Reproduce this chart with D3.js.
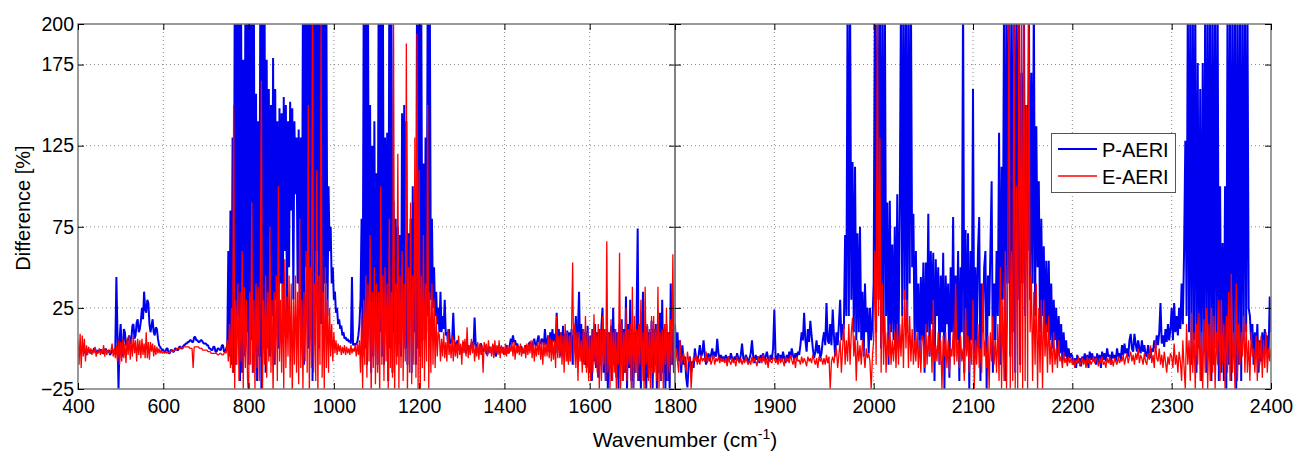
<!DOCTYPE html>
<html><head><meta charset="utf-8">
<script src="https://cdn.jsdelivr.net/npm/d3@7"></script>
<style>body{margin:0;background:#fff}svg{display:block}text{font-family:"Liberation Sans",Arial,sans-serif;fill:#000}</style>
</head><body><svg id="c" width="1296" height="451"></svg>
<script>
// ---- data ----
// left panel: 400..1800 cm-1 every 2.5 ; right panel: 1800..2400 cm-1 every 1.25
const leftRange = [400, 1800];
const rightRange = [1800, 2400];
const seriesNames = ["P-AERI", "E-AERI"];

const pLeft = [
-1,-2,-3,-1,0,-2,-2,-3,-4,-2,-1,-2,-3,-1,-2,0,0,-2,-3,-1,
-2,-1,-1,-3,-3,-1,0,-2,-2,-1,-4,-3,-1,-2,-3,0,44,10,-25,5,
15,0,-5,12,10,2,2,6,8,3,5,14,15,6,8,16,18,10,12,17,
25,18,35,24,22,30,28,15,10,14,18,10,8,13,12,6,2,1,0,-1,
-1,-2,-2,0,0,-3,-3,-1,-1,-2,-2,0,0,-1,-1,1,1,0,0,2,
2,3,3,4,4,5,5,4,4,7,7,5,5,4,4,5,5,4,3,3,
3,2,2,0,0,-1,-1,1,1,-2,-2,0,0,-1,-1,2,2,-2,-2,0,
2,60,-5,85,-10,130,-15,220,-10,220,20,220,-20,210,-15,178,-5,220,10,220,
-10,220,5,220,-15,210,0,157,-20,140,-5,220,-25,220,10,220,-15,178,0,160,
-5,150,20,179,-10,160,30,140,0,148,40,145,10,155,60,150,20,140,50,152,
85,148,30,140,95,130,40,135,20,130,10,220,-10,220,50,220,0,220,30,220,
-20,230,20,220,60,230,0,220,15,230,10,220,40,210,20,100,60,75,40,50,
30,35,22,25,15,18,12,14,8,10,6,7,5,6,4,5,3,44,2,3,
2,3,4,8,15,30,80,-5,220,0,220,-10,220,15,150,-15,125,-5,140,10,
108,-10,220,10,220,-5,220,-10,130,20,133,-20,220,0,220,-15,91,10,80,-5,
75,10,70,-5,145,15,150,0,140,-10,71,20,80,-15,100,10,90,-10,220,0,
220,-5,210,25,114,5,130,20,220,10,220,30,80,25,50,20,35,15,25,10,
35,10,20,12,30,8,10,4,12,3,4,6,22,5,0,3,5,-1,2,0,
-2,1,4,-1,-3,0,2,-2,0,3,4,1,19,3,1,-1,-3,2,3,0,
-2,0,2,-3,-4,0,1,-2,-2,1,2,-3,-5,0,1,-2,-3,1,0,-2,
-4,-1,2,-2,-3,2,6,3,8,4,5,2,3,0,-2,1,1,-2,-3,0,
2,0,-1,3,4,1,0,4,6,2,2,5,8,3,3,6,5,2,12,3,
2,8,-2,10,0,12,4,9,-3,22,3,12,-5,10,2,14,-4,9,2,11,
-8,10,2,12,-10,8,5,20,-5,12,35,-5,15,-8,12,-10,10,-12,14,-10,
-15,8,-20,12,-8,15,-12,10,-18,12,-10,14,25,-15,8,-20,12,-25,10,-12,
14,-20,25,-10,12,-18,10,-25,15,-10,18,-20,12,-15,32,-25,15,-12,30,-20,
12,-25,10,-15,20,74,-20,15,-25,12,35,-20,10,-25,14,-18,10,-12,17,-25,
12,-10,15,-25,10,-15,22,-20,30,-15,12,-25,15,-20,10,-25,40,-10,12,-15,
15];

const eLeft = [
5,-10,9,-12,8,-5,6,-8,2,-4,1,-3,0,-4,-1,-3,1,-5,-2,-3,
0,-4,-1,-3,2,-5,0,-4,-1,-2,-3,-1,3,-5,0,-6,2,-8,5,-10,
4,-8,6,-6,3,-9,6,-4,8,-7,6,-5,8,-3,5,-8,6,-4,5,-6,
6,-4,3,-6,10,-6,4,-7,4,-2,3,-5,2,-4,1,-3,0,-3,-1,-3,
-2,-3,-2,-3,-2,-3,-2,-2,-1,-2,-1,-1,-1,0,0,0,0,1,0,1,
1,1,1,1,1,0,0,0,-12,1,1,1,1,1,0,0,0,-1,-1,-1,
-1,-1,-2,-2,-2,-3,-3,-3,-3,-3,-3,-4,-4,-3,-3,-4,-4,-3,-2,-3,
5,-8,15,-12,25,-15,150,-25,30,-10,40,-20,35,-8,60,-25,38,-12,30,-18,
-30,35,-10,90,-15,30,-25,40,-12,38,-20,35,165,-30,30,-10,45,-18,35,-8,
75,-15,30,-28,35,-10,45,-20,100,-8,30,-15,40,-25,55,-12,32,-5,45,-18,
40,-30,30,-10,45,-15,35,-22,80,-12,30,-25,35,-8,60,-15,150,-30,50,-12,
230,-15,40,-20,110,-30,45,-10,200,-18,35,-25,50,-12,30,-15,25,-5,15,-8,
10,-3,5,-4,3,-2,2,-4,1,-3,2,-4,1,-3,0,-4,2,-3,0,-2,
2,-5,3,-4,5,-15,20,-25,30,-10,45,-18,40,-8,70,-30,35,-12,50,-22,
40,-15,35,-30,100,-10,45,-20,50,-8,40,-25,80,-12,35,-18,200,-30,40,-10,
120,-25,45,-12,60,-20,40,-8,188,-30,50,-15,90,-22,45,-10,130,-18,194,-25,
110,-30,45,-12,70,-20,40,-8,150,-25,35,-15,40,-10,30,-12,20,-5,10,8,
-8,6,-5,10,-6,4,-8,12,-4,3,-6,8,-8,5,-5,3,-6,8,-4,3,
-10,5,-3,6,-5,13,-6,2,-4,6,-3,4,-8,2,-5,4,-7,3,-4,2,
-15,4,-2,3,-5,5,-3,1,-5,3,-6,5,-3,2,-4,5,-6,2,-3,1,
-4,3,-5,2,-3,1,-2,4,-5,4,-7,2,-3,2,-4,3,-5,0,-3,2,
-6,3,-4,3,-3,5,-6,5,-8,2,-5,4,-4,6,-7,4,-10,4,-5,3,
-5,8,-6,6,-8,5,-7,5,-12,20,-6,8,-6,10,-10,8,-15,15,-8,10,
-10,8,-8,12,53,-10,15,-12,10,-20,10,-8,5,-15,12,-10,20,-15,10,-20,
8,-20,12,-15,21,-10,10,-15,15,-25,12,-20,20,-10,12,-20,66,-15,10,-25,
18,-20,10,-15,12,-25,10,-10,59,-25,15,-20,10,-15,25,-20,12,-10,15,-25,
38,-25,20,-15,12,-20,15,-10,30,-20,10,-25,38,-10,15,-20,12,-25,20,-15,
20,-15,12,-20,38,-25,10,-20,12,-25,15,-10,25,-20,10,-15,18,-10,58,-15,
-15];

const pRight = [
15,-5,10,-8,5,-15,2,-10,-5,-18,-24,-10,-5,-15,-8,-12,0,-6,-8,-4,
2,-5,-3,5,-4,-10,-6,-3,-8,-4,0,-6,-2,-5,6,-3,-7,-4,-8,-5,
-8,-4,-9,-5,-7,-3,-6,-8,-5,-7,-3,-6,-8,-4,3,-6,-8,-4,-6,-9,
-6,-3,5,-5,-9,-4,-7,-5,-9,-4,-7,-3,-8,-5,-2,-6,-8,-4,-7,0,
24,-5,-8,-3,-7,-4,-8,-2,-6,-9,-4,-8,-2,-6,0,-4,-7,-3,-6,-2,
-4,2,10,5,22,5,-2,12,4,17,8,0,-6,-2,5,-3,2,-6,-3,5,
10,2,28,5,3,15,2,24,8,-5,10,2,15,30,5,15,12,70,20,220,
20,220,30,115,10,112,5,71,10,75,5,35,-5,40,10,25,-3,25,5,15,
40,220,10,220,30,220,0,220,10,220,20,90,-10,91,10,64,5,75,0,95,
0,83,220,20,220,30,220,10,220,40,220,50,83,0,60,10,40,-5,44,5,
53,-15,53,10,83,-5,60,15,59,-20,55,20,50,-10,45,10,59,-25,45,15,
40,-18,50,10,81,-5,45,5,60,-20,50,10,220,-15,73,0,71,-25,60,5,
160,-10,50,0,60,81,-20,40,10,50,60,-25,45,20,60,103,-15,40,5,60,
20,133,-10,112,30,220,-20,220,40,220,-5,220,10,220,-15,220,30,220,-10,170,
40,220,20,150,60,220,30,170,40,220,20,137,50,103,10,80,20,63,5,54,
10,54,5,40,0,30,5,25,-5,20,-3,15,-8,10,-5,5,-8,0,-6,-3,
-5,-10,-6,-12,-4,-9,-6,-11,-5,-8,-3,-9,-4,-12,-2,-7,-3,-8,-5,-10,
-3,-9,-4,-12,-2,-7,-3,-8,0,-5,-4,-10,-2,-6,-4,-8,0,-5,-3,-7,
2,-4,3,-3,0,-5,5,9,0,-2,9,3,-2,5,0,-3,5,-2,2,-4,
-5,2,-3,-6,0,-2,5,0,8,2,10,28,3,8,1,12,4,15,5,12,
25,5,28,10,20,8,25,12,40,15,60,128,20,220,10,220,-10,220,5,220,
-15,176,0,160,-20,176,5,220,-15,220,0,220,-20,220,-10,220,0,220,-20,100,
-15,65,-20,100,-25,220,-10,220,-20,220,0,220,-25,220,-10,220,-20,220,5,220,
10,220,25,20,5,15,-10,10,-5,15,-15,5,-8,10,-5,12,0,8,-5,32,
10];

const eRight = [
-12,0,-8,-15,5,-10,-6,-3,-10,-14,-2,-8,-5,-25,-10,-5,-8,-4,-10,-6,
-10,-4,-8,-6,-8,-2,-9,-6,-5,-10,-7,-4,-10,-6,-8,-5,-9,-6,-8,-6,
-9,-6,-11,-5,-8,-10,-6,-9,-7,-11,-5,-8,-9,-6,-10,-7,-9,-5,-8,-10,
-7,-10,-5,-9,-6,-8,-11,-5,-8,-6,-9,-4,-7,-10,-6,-12,-5,-8,-9,-6,
-6,-9,-7,-10,-5,-9,-6,-8,-11,-5,-8,-6,-9,-4,-7,-10,-6,-12,-5,-8,
-7,-10,-5,-9,-6,-8,-11,-5,-8,-6,-9,-4,-7,-10,-6,-12,-5,-8,-6,-10,
-6,-10,-4,-9,-5,-25,-8,-5,-9,-3,0,-12,-4,5,-15,0,15,-10,5,-8,
15,-10,10,19,-5,8,-20,5,-8,2,-10,5,-3,-12,0,-6,-3,-8,-25,-5,
5,60,-10,220,20,130,-15,40,-10,20,-15,10,-5,15,-10,5,-8,10,-12,15,
-10,15,-5,20,-12,36,0,30,-12,20,-8,12,-10,5,-8,10,-12,5,-15,8,
5,-12,15,-10,8,-5,12,-15,30,-8,2,-8,10,-10,5,-25,8,-5,10,-12,
5,-15,0,-5,10,-10,40,-8,5,-12,8,-8,0,-20,25,-5,8,-15,5,-10,
30,-25,5,-10,15,-12,0,-15,40,-5,5,-12,8,-25,10,-8,20,-10,5,-15,
15,-20,50,-25,30,-20,60,-25,40,220,-25,60,-20,220,-25,100,-25,220,-15,220,
-25,220,-20,150,-25,220,10,45,-20,35,-10,40,-25,25,-15,30,-25,30,-5,15,
-15,20,-10,5,-15,10,-10,0,-12,5,-8,-5,-12,-2,-9,-6,-11,-5,-9,-6,
-10,-6,-12,-7,-9,-5,-11,-8,-6,-10,-7,-12,-5,-9,-6,-10,-8,-5,-9,-6,
-7,-11,-6,-9,-5,-10,-8,-12,-6,-9,-5,-10,-7,-11,-6,-8,-10,-5,-9,-7,
-8,-4,-10,-6,-3,-9,-5,-2,-8,-4,-10,-3,-7,0,-9,-4,-6,-10,-3,-8,
-10,-3,-7,2,-9,-4,-12,5,-6,-8,0,-10,-4,-12,-2,-8,-15,-5,-10,-3,
-5,-12,3,-10,-4,-15,-2,-8,-20,5,-12,-25,15,-10,5,-20,22,-15,10,-25,
15,-10,22,-20,10,-25,18,-15,25,-25,15,-20,25,-15,20,-25,10,-10,30,-20,
30,-10,15,-25,20,-15,35,-20,46,-15,10,-25,40,-20,15,-10,10,-5,20,-15,
15,-15,5,-20,10,-5,0,-15,8,-20,5,-10,8,-18,5,-12,10,-15,0,-8,
0];

const xTicksLeft = [400,600,800,1000,1200,1400,1600,1800];
const xTicksRight = [1800,1900,2000,2100,2200,2300,2400];
const yTicks = [-25,25,75,125,175,200];

// ---- drawing ----
const svg = d3.select("#c");
const T = 24, B = 389, L = 78, MID = 675, R = 1271;
const y = d3.scaleLinear().domain([-25,200]).range([B,T]);
const xL = d3.scaleLinear().domain(leftRange).range([L,MID]);
const xR = d3.scaleLinear().domain(rightRange).range([MID,R]);
const BLUE = "#0000f0", RED = "#ff0000";
const BLUE_W = 2, RED_W = 1.3;

const panels = [
  {id:"L", x:xL, range:leftRange, p:pLeft, e:eLeft, ticks:xTicksLeft, labels:xTicksLeft},
  {id:"R", x:xR, range:rightRange, p:pRight, e:eRight, ticks:xTicksRight, labels:xTicksRight.slice(1)}
];

const defs = svg.append("defs");
panels.forEach(P => {
  const [x0,x1] = P.x.range();
  defs.append("clipPath").attr("id","clip"+P.id).append("rect")
    .attr("x",x0).attr("y",T).attr("width",x1-x0).attr("height",B-T);

  const g = svg.append("g");
  g.selectAll(".vg").data(P.ticks.filter(t => t>P.range[0] && t<P.range[1])).join("line")
    .attr("x1",d=>P.x(d)).attr("x2",d=>P.x(d)).attr("y1",T).attr("y2",B)
    .attr("stroke","#8a8a8a").attr("stroke-width",1).attr("stroke-dasharray","1,3");
  g.selectAll(".hg").data(yTicks.filter(t => t>-25 && t<200)).join("line")
    .attr("x1",x0).attr("x2",x1).attr("y1",d=>y(d)).attr("y2",d=>y(d))
    .attr("stroke","#8a8a8a").attr("stroke-width",1).attr("stroke-dasharray","1,3");

  const dg = svg.append("g").attr("clip-path","url(#clip"+P.id+")");
  [[P.p,BLUE,BLUE_W],[P.e,RED,RED_W]].forEach(([arr,col,w]) => {
    const step = (P.range[1]-P.range[0])/(arr.length-1);
    const line = d3.line().x((d,i)=>P.x(P.range[0] + i*step)).y(d=>y(d));
    dg.append("path").datum(arr).attr("d",line).attr("fill","none")
      .attr("stroke",col).attr("stroke-width",w).attr("stroke-linejoin","bevel");
  });

  svg.append("rect").attr("x",x0).attr("y",T).attr("width",x1-x0).attr("height",B-T)
    .attr("fill","none").attr("stroke","#7a7a7a").attr("stroke-width",1.5);

  const tk = (axis, tx, ty) => {
    const a = svg.append("g").attr("transform",`translate(${tx},${ty})`).call(axis);
    a.select(".domain").remove();
    a.selectAll(".tick line").attr("stroke","#000");
    return a;
  };
  tk(d3.axisLeft(y).tickValues(yTicks).tickSize(-6).tickFormat(""), x0, 0);
  tk(d3.axisRight(y).tickValues(yTicks).tickSize(-6).tickFormat(""), x1, 0);
  tk(d3.axisTop(P.x).tickValues(P.ticks).tickSize(-6).tickFormat(""), 0, T);
  const xb = tk(d3.axisBottom(P.x).tickValues(P.ticks).tickSize(-6).tickPadding(10)
      .tickFormat(d => P.labels.includes(d) ? d : ""), 0, B);
  xb.selectAll("text").style("font-size","19.5px").attr("fill","#000");
});

const ya = svg.append("g").attr("transform",`translate(${L},0)`)
  .call(d3.axisLeft(y).tickValues(yTicks).tickSize(0).tickPadding(4));
ya.select(".domain").remove();
ya.selectAll("text").style("font-size","19.5px").attr("fill","#000");

const xt = svg.append("text").attr("x",685).attr("y",447).attr("text-anchor","middle").style("font-size","21px");
xt.append("tspan").text("Wavenumber (cm");
xt.append("tspan").text("-1").attr("dy",-8).style("font-size","14px");
xt.append("tspan").text(")").attr("dy",8);

svg.append("text").attr("transform","translate(30,208) rotate(-90)")
  .attr("text-anchor","middle").style("font-size","20px").text("Difference [%]");

const lg = svg.append("g");
lg.append("rect").attr("x",1051.5).attr("y",133.5).attr("width",124).attr("height",59)
  .attr("fill","#fff").attr("stroke","#555").attr("stroke-width",1);
const legColors = [BLUE, RED], legW = [BLUE_W, RED_W], legY = [149,176];
seriesNames.forEach((n,i) => {
  lg.append("line").attr("x1",1058).attr("x2",1097).attr("y1",legY[i]).attr("y2",legY[i])
    .attr("stroke",legColors[i]).attr("stroke-width",legW[i]);
  lg.append("text").attr("x",1102).attr("y",legY[i]+8).style("font-size","20px").text(n);
});
</script>
</body></html>
